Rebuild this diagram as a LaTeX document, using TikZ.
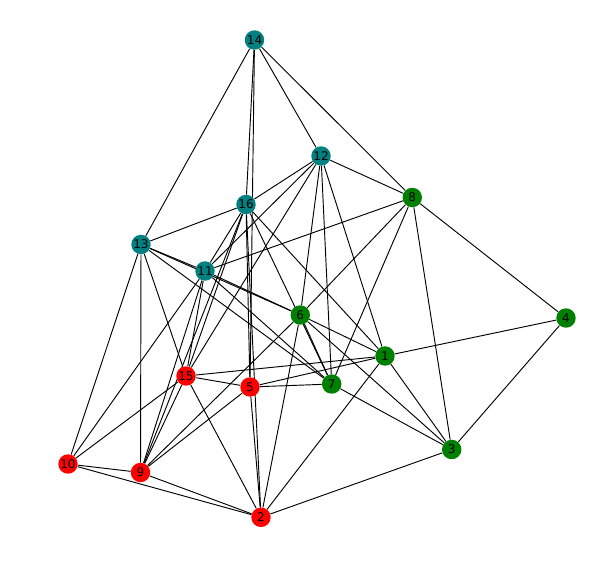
\documentclass[tikz,border=0pt]{standalone}
\usepackage{fontspec}
\setmainfont{DejaVu Sans}
\usetikzlibrary{backgrounds}

\definecolor{tealnode}{RGB}{0,128,128}
\definecolor{greennode}{RGB}{0,128,0}
\definecolor{rednode}{RGB}{255,0,0}

\tikzset{
  vtx/.style={circle, inner sep=0pt, minimum size=14.6pt, text=black,
    font=\fontsize{9}{10}\selectfont},
  tealv/.style={vtx, fill=tealnode},
  greenv/.style={vtx, fill=greennode},
  redv/.style={vtx, fill=rednode},
  lnk/.style={draw=black, line width=0.7pt}
}

\begin{document}
\begin{tikzpicture}[x=0.75pt,y=0.75pt,yscale=-1,xscale=1]
\useasboundingbox (0,0) rectangle (603,575);

% Teal nodes
\node [tealv] (n14) at (254.5,40) {14};
\node [tealv] (n12) at (321,156) {12};
\node [tealv] (n16) at (246,204.5) {16};
\node [tealv] (n13) at (141,244.5) {13};
\node [tealv] (n11) at (205,271) {11};
% Green nodes
\node [greenv] (n8) at (412.3,197.5) {8};
\node [greenv] (n4) at (566,318) {4};
\node [greenv] (n6) at (300.3,315) {6};
\node [greenv] (n1) at (385,356) {1};
\node [greenv] (n7) at (331.7,384) {7};
\node [greenv] (n3) at (451.7,449.5) {3};
% Red nodes
\node [redv] (n15) at (186,376) {15};
\node [redv] (n5) at (250,387) {5};
\node [redv] (n10) at (68,464) {10};
\node [redv] (n9) at (140.5,472.5) {9};
\node [redv] (n2) at (261,517.3) {2};

\begin{scope}[on background layer]
% Edges from 14
\draw [lnk] (n14) -- (n13);
\draw [lnk] (n14) -- (n16);
\draw [lnk] (n14) -- (n5);
\draw [lnk] (n14) -- (n12);
\draw [lnk] (n14) -- (n8);
% Edges from 12
\draw [lnk] (n12) -- (n8);
\draw [lnk] (n12) -- (n16);
\draw [lnk] (n12) -- (n11);
\draw [lnk] (n12) -- (n15);
\draw [lnk] (n12) -- (n6);
\draw [lnk] (n12) -- (n7);
\draw [lnk] (n12) -- (n1);
% Edges from 8
\draw [lnk] (n8) -- (n11);
\draw [lnk] (n8) -- (n6);
\draw [lnk] (n8) -- (n7);
\draw [lnk] (n8) -- (n3);
\draw [lnk] (n8) -- (n4);
% Edges from 16
\draw [lnk] (n16) -- (n13);
\draw [lnk] (n16) -- (n11);
\draw [lnk] (n16) -- (n5);
\draw [lnk] (n16) -- (n2);
\draw [lnk] (n16) -- (n7);
\draw [lnk] (n16) -- (n1);
\draw [lnk] (n16) -- (n15);
\draw [lnk] (n16) -- (n9);
% Edges from 13
\draw [lnk] (n13) -- (n11);
\draw [lnk] (n13) -- (n6);
\draw [lnk] (n13) -- (n7);
\draw [lnk] (n13) -- (n15);
\draw [lnk] (n13) -- (n9);
\draw [lnk] (n13) -- (n10);
% Edges from 11
\draw [lnk] (n11) -- (n6);
\draw [lnk] (n11) -- (n7);
\draw [lnk] (n11) -- (n15);
\draw [lnk] (n11) -- (n9);
\draw [lnk] (n11) -- (n10);
% Edges from 6
\draw [lnk] (n6) -- (n7);
\draw [lnk] (n6) -- (n1);
\draw [lnk] (n6) -- (n3);
\draw [lnk] (n6) -- (n2);
\draw [lnk] (n6) -- (n9);
% Edges from 1
\draw [lnk] (n1) -- (n4);
\draw [lnk] (n1) -- (n3);
\draw [lnk] (n1) -- (n15);
\draw [lnk] (n1) -- (n5);
\draw [lnk] (n1) -- (n2);
% Edges from 7, 4, 3
\draw [lnk] (n7) -- (n5);
\draw [lnk] (n7) -- (n3);
\draw [lnk] (n4) -- (n3);
\draw [lnk] (n3) -- (n2);
% Edges among the red nodes
\draw [lnk] (n15) -- (n5);
\draw [lnk] (n15) -- (n9);
\draw [lnk] (n15) -- (n10);
\draw [lnk] (n15) -- (n2);
\draw [lnk] (n5) -- (n9);
\draw [lnk] (n5) -- (n2);
\draw [lnk] (n10) -- (n9);
\draw [lnk] (n10) -- (n2);
\draw [lnk] (n9) -- (n2);
\end{scope}

\end{tikzpicture}
\end{document}
